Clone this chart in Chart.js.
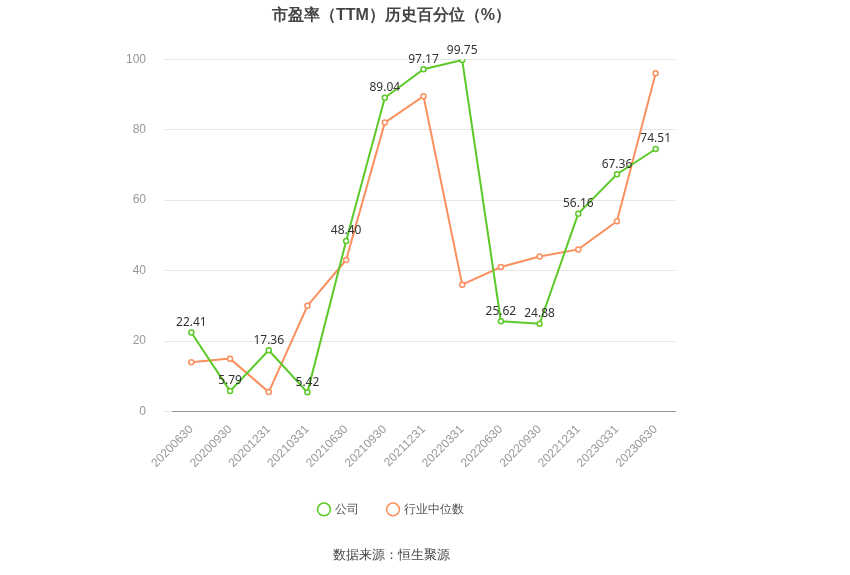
<!DOCTYPE html>
<html><head><meta charset="utf-8">
<script src="https://cdn.jsdelivr.net/npm/chart.js@4"></script>
<style>body{margin:0;background:#fff}#w{width:850px;height:575px;position:relative}</style>
</head><body><div id="w"><canvas id="c" width="850" height="575"></canvas></div>
<script>
const categories = ['20200630','20200930','20201231','20210331','20210630','20210930','20211231','20220331','20220630','20220930','20221231','20230331','20230630'];
const companyValues = [22.41, 5.79, 17.36, 5.42, 48.40, 89.04, 97.17, 99.75, 25.62, 24.88, 56.16, 67.36, 74.51];
const industryValues = [14.0, 15.0, 5.5, 30.0, 43.0, 82.0, 89.5, 36.0, 41.0, 44.0, 46.0, 54.0, 96.0];
const yTicks = [0, 20, 40, 60, 80, 100];

const labelPlugin = {
  id: 'labels',
  afterDatasetsDraw(chart) {
    const ctx = chart.ctx;
    const meta = chart.getDatasetMeta(0);
    ctx.save();
    ctx.font = '12px "Noto Sans", sans-serif';
    ctx.fillStyle = '#333';
    ctx.textAlign = 'center';
    meta.data.forEach((p, i) => {
      ctx.fillText(companyValues[i].toFixed(2), p.x, p.y - 10);
    });
    ctx.restore();
  }
};

new Chart(document.getElementById('c'), {
  type: 'line',
  data: {
    labels: categories,
    datasets: [{
      label: '公司',
      data: companyValues,
      borderColor: '#5cc928',
      backgroundColor: '#fff',
      borderWidth: 2,
      pointRadius: 2.5,
      pointBorderWidth: 1.5,
      tension: 0
    }, {
      label: '行业中位数',
      data: industryValues,
      borderColor: '#fb8f5e',
      backgroundColor: '#fff',
      borderWidth: 2,
      pointRadius: 2.5,
      pointBorderWidth: 1.5,
      tension: 0
    }]
  },
  options: {
    responsive: false,
    animation: false,
    layout: { padding: { left: 108, right: 175, top: 6, bottom: 12 } },
    scales: {
      x: {
        offset: true,
        grid: { display: false },
        border: { color: '#999' },
        ticks: { color: '#999', maxRotation: 45, minRotation: 45, font: { size: 12 } }
      },
      y: {
        min: 0, max: 100,
        afterBuildTicks(s) { s.ticks = yTicks.map(v => ({ value: v })); },
        grid: { color: '#e6e6e6' },
        border: { display: false },
        ticks: { color: '#999', padding: 18, font: { size: 12 } }
      }
    },
    plugins: {
      title: { display: true, text: '市盈率（TTM）历史百分位（%）', color: '#444', font: { size: 16, weight: 'bold' }, padding: { top: 0, bottom: 34 } },
      legend: {
        position: 'bottom',
        labels: { usePointStyle: true, pointStyle: 'circle', boxWidth: 9, boxHeight: 9, color: '#555', padding: 30, font: { size: 12 } }
      },
      subtitle: { display: true, position: 'bottom', text: '数据来源：恒生聚源', color: '#444', font: { size: 13 }, padding: { top: 22, bottom: 0 } }
    }
  },
  plugins: [labelPlugin]
});
</script></body></html>
